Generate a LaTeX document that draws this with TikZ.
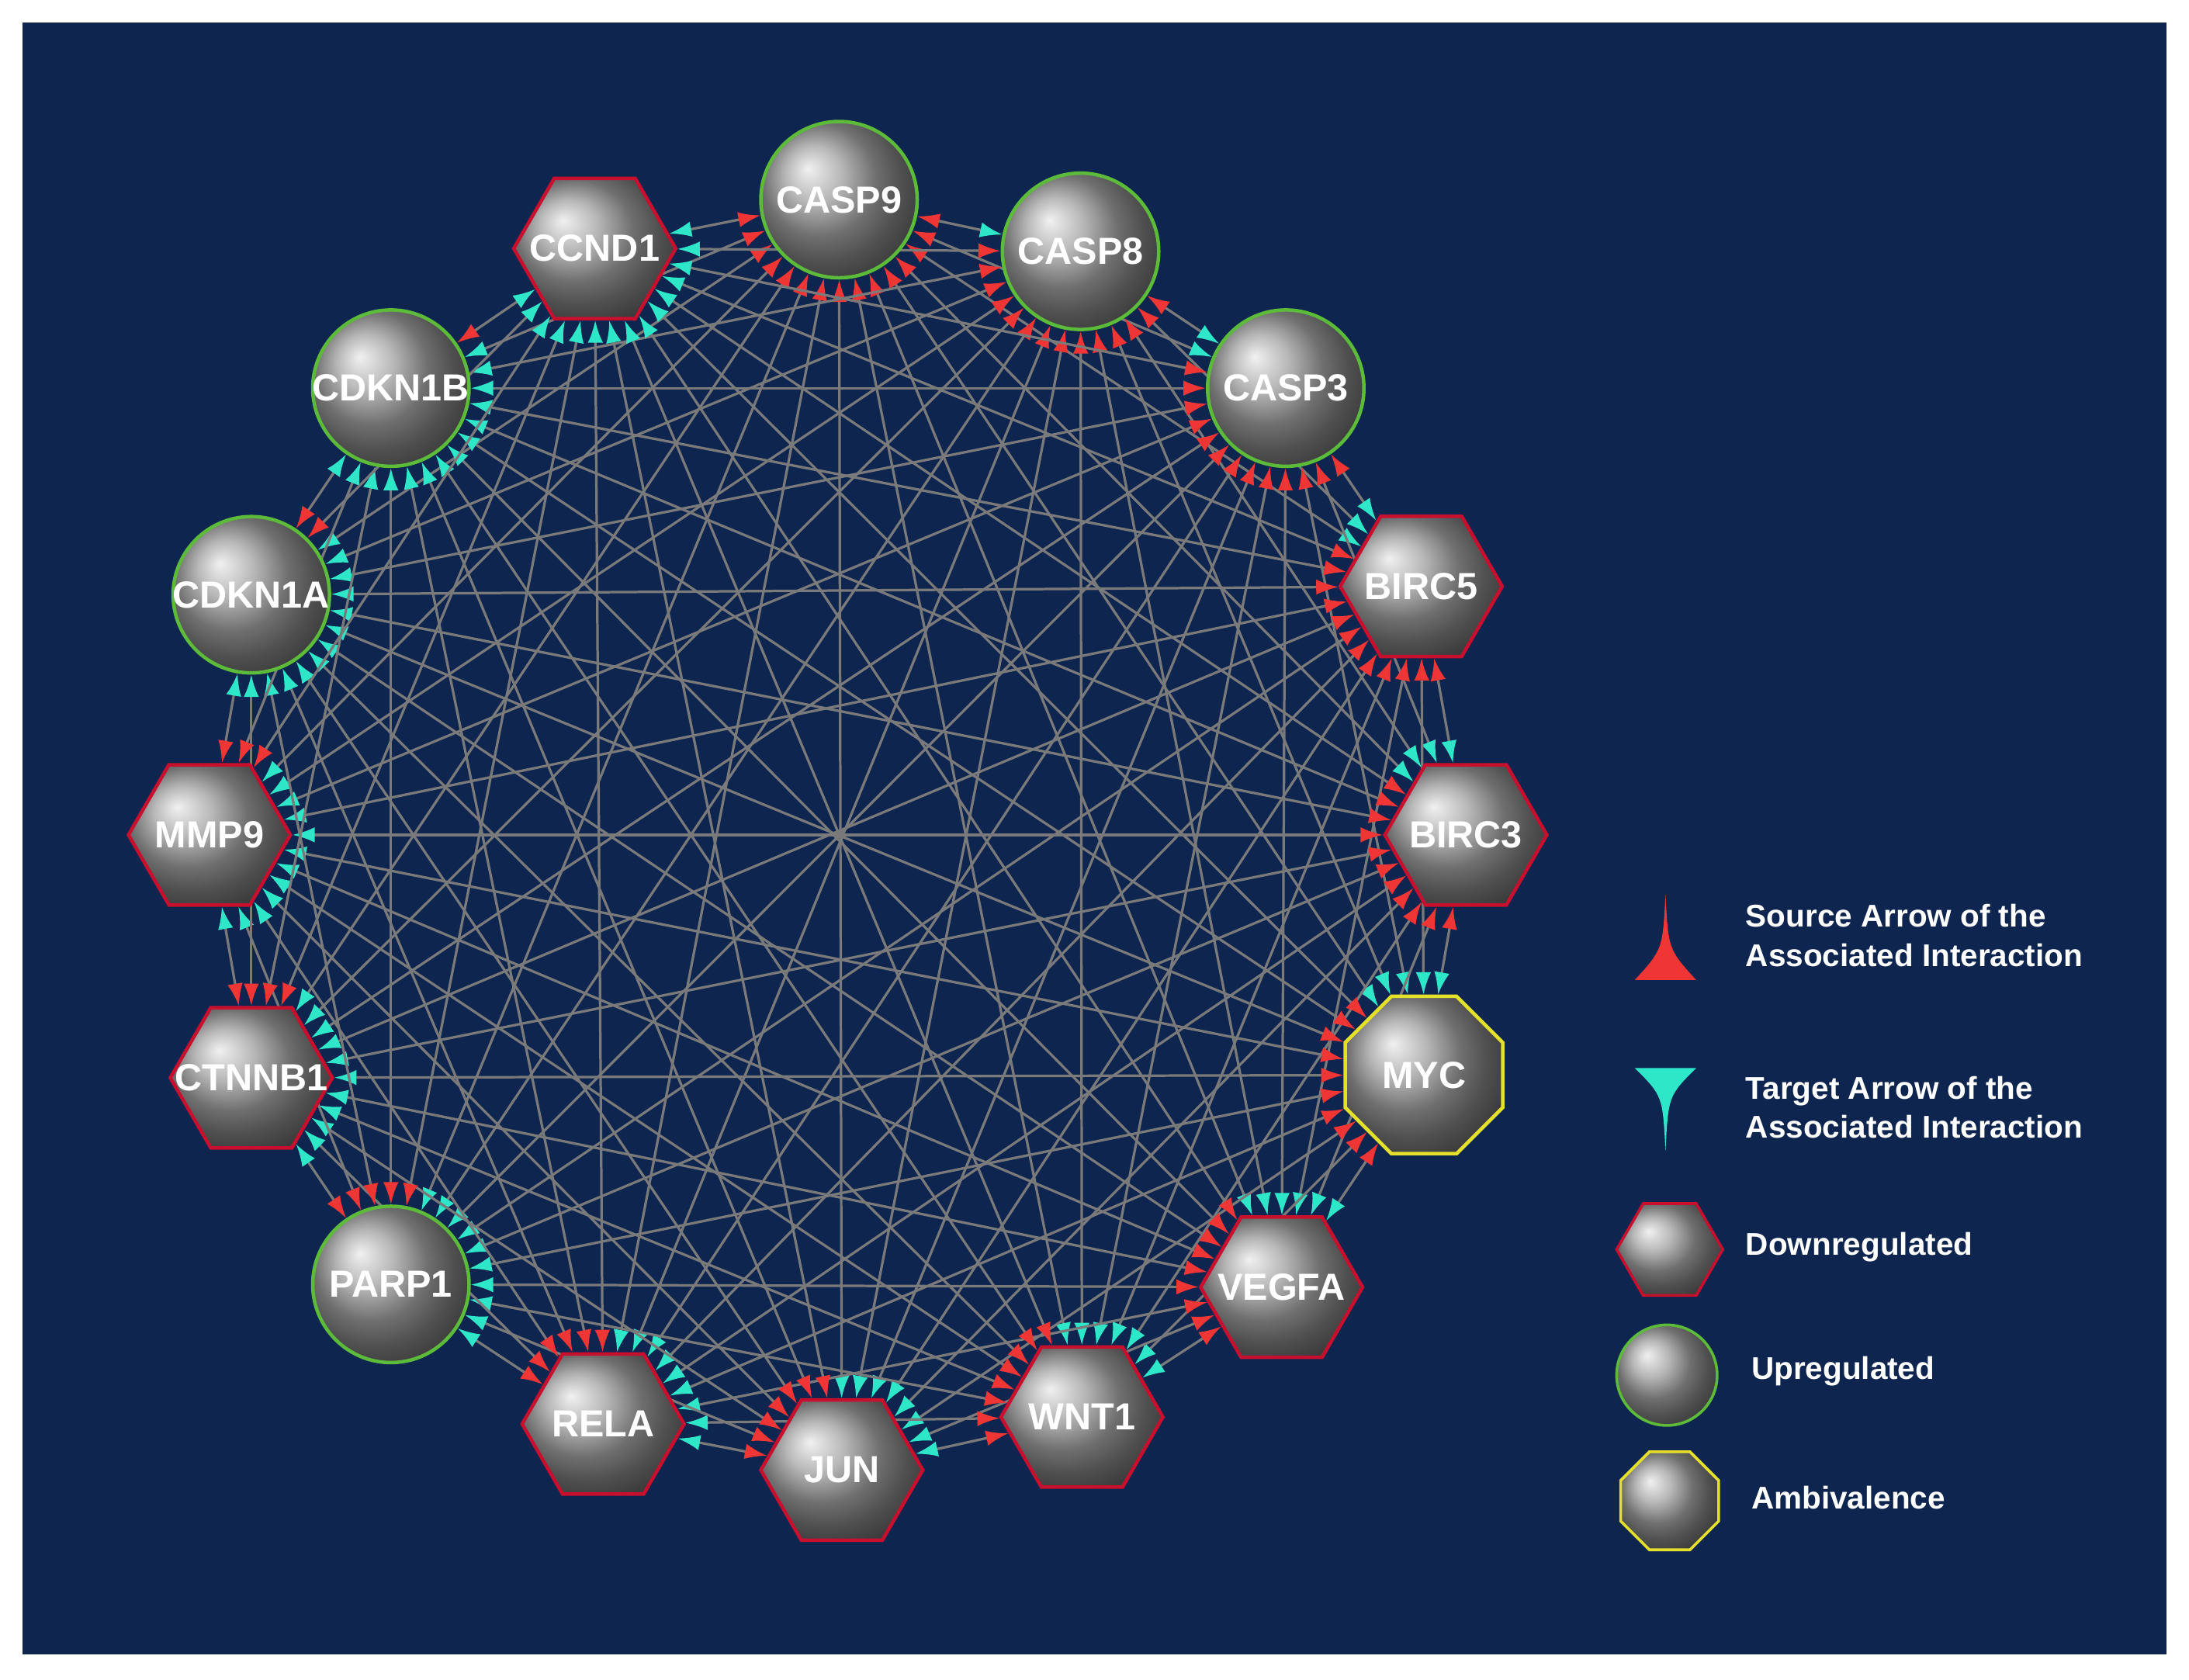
\documentclass[tikz,border=0pt]{standalone}
\usepackage{fontspec}
\setmainfont{Liberation Sans}
\usetikzlibrary{shapes.geometric,arrows.meta}
\pgfdeclarelayer{bg}\pgfdeclarelayer{edges}
\pgfsetlayers{bg,edges,main}
\definecolor{navy}{HTML}{0E2550}
\definecolor{redb}{HTML}{C8102E}
\definecolor{greenb}{HTML}{5DBB3A}
\definecolor{yellowb}{HTML}{E5E02A}
\definecolor{cyanA}{HTML}{2EE6C8}
\definecolor{redA}{HTML}{F03535}
\definecolor{edgeg}{HTML}{7A7A7A}
\tikzset{
 base/.style={shading=ball,ball color=gray!75,line width=2.5pt,inner sep=0pt},
 up/.style={base,circle,draw=greenb,minimum size=112pt},
 down/.style={base,regular polygon,regular polygon sides=6,draw=redb,minimum size=116pt},
 amb/.style={base,regular polygon,regular polygon sides=8,draw=yellowb,minimum size=122pt},
 lbl/.style={text=white,font=\fontsize{27}{29}\selectfont\bfseries},
 leg/.style={text=white,font=\fontsize{22.5}{28}\selectfont\bfseries,align=left,anchor=west},
 edge/.style={draw=edgeg,line width=1.8pt,{Latex[color=redA,length=16pt,width=11pt]}-{Latex[color=cyanA,length=16pt,width=11pt]}}
}
\begin{document}
\begin{tikzpicture}[x=1pt,y=-1pt]
\useasboundingbox (0,0) rectangle (1568,1203);
\begin{pgfonlayer}{bg}
\fill[white] (0,0) rectangle (1568,1203);
\fill[navy] (16,16) rectangle (1552,1185);
\end{pgfonlayer}
\foreach \n/\x/\y/\s/\t in {
 1/601/143/up/CASP9, 2/774/180/up/CASP8, 3/921/278/up/CASP3,
 4/1018/420/down/BIRC5, 5/1050/598/down/BIRC3, 6/1020/770/amb/MYC,
 7/918/922/down/VEGFA, 8/775/1015/down/WNT1, 9/603/1053/down/JUN,
 10/432/1020/down/RELA, 11/280/920/up/PARP1, 12/180/772/down/CTNNB1,
 13/150/598/down/MMP9, 14/180/426/up/CDKN1A, 15/280/278/up/CDKN1B,
 16/426/178/down/CCND1}{
 \node[\s] (n\n) at (\x,\y) {};
 \node[lbl] (t\n) at (\x,\y) {\t};
}
\begin{pgfonlayer}{edges}
\foreach \i in {1,...,15}{
 \pgfmathtruncatemacro\k{\i+1}
 \foreach \j in {\k,...,16}{ \draw[edge] (n\i) -- (n\j); }
}
\end{pgfonlayer}
% legend
\fill[redA] (1193,640) .. controls (1195,680) .. (1215,702) -- (1171,702) .. controls (1191,680) .. (1193,640) -- cycle;
\fill[cyanA] (1193,825) .. controls (1195,785) .. (1215,765) -- (1171,765) .. controls (1191,785) .. (1193,825) -- cycle;
\node[leg] (l1) at (1247,670) {Source Arrow of the\\Associated Interaction};
\node[leg] (l2) at (1247,793) {Target Arrow of the\\Associated Interaction};
\node[down,minimum size=76pt,line width=2pt] (g1) at (1196,895) {};
\node[leg] (l3) at (1247,893) {Downregulated};
\node[up,minimum size=72pt,line width=2pt] (g2) at (1194,985) {};
\node[leg] (l4) at (1251,982) {Upregulated};
\node[amb,minimum size=76pt,line width=2pt] (g3) at (1196,1075) {};
\node[leg] (l5) at (1251,1073) {Ambivalence};
\end{tikzpicture}
\end{document}
